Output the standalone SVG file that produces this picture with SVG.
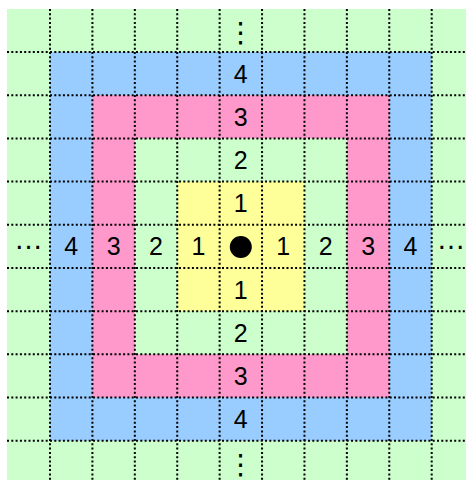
<svg xmlns="http://www.w3.org/2000/svg" width="466" height="480" viewBox="0 0 466 480">
<style>
.g{fill:#CCFFCC}.b{fill:#99CCFF}.p{fill:#FF99CC}.y{fill:#FFFF99}
.grid line{stroke:#000;stroke-width:2;stroke-dasharray:2 2.3}
.t{font-family:"Liberation Sans",Arial,sans-serif;font-size:25px;fill:#000;text-anchor:middle}
.e{font-family:"Liberation Sans","DejaVu Sans",sans-serif;font-size:29px;fill:#000;text-anchor:middle}
.v{font-family:"DejaVu Sans",sans-serif;font-size:28px;fill:#000;text-anchor:middle}
</style>
<g id="rings">
<rect id="ring5" class="g" x="7" y="9" width="459" height="471"/>
<rect id="ring4" class="b" x="50" y="52" width="381.69" height="388.71"/>
<rect id="ring3" class="p" x="92.41" y="95.19" width="296.87" height="302.33"/>
<rect id="ring2" class="g" x="134.82" y="138.38" width="212.05" height="215.95"/>
<rect id="ring1" class="y" x="177.23" y="181.57" width="127.23" height="129.57"/>
</g>
<g id="grid" class="grid">
<line x1="50" y1="9" x2="50" y2="480"/>
<line x1="92.41" y1="9" x2="92.41" y2="480"/>
<line x1="134.82" y1="9" x2="134.82" y2="480"/>
<line x1="177.23" y1="9" x2="177.23" y2="480"/>
<line x1="219.64" y1="9" x2="219.64" y2="480"/>
<line x1="262.05" y1="9" x2="262.05" y2="480"/>
<line x1="304.46" y1="9" x2="304.46" y2="480"/>
<line x1="346.87" y1="9" x2="346.87" y2="480"/>
<line x1="389.28" y1="9" x2="389.28" y2="480"/>
<line x1="431.69" y1="9" x2="431.69" y2="480"/>
<line x1="7" y1="52" x2="466" y2="52"/>
<line x1="7" y1="95.19" x2="466" y2="95.19"/>
<line x1="7" y1="138.38" x2="466" y2="138.38"/>
<line x1="7" y1="181.57" x2="466" y2="181.57"/>
<line x1="7" y1="224.76" x2="466" y2="224.76"/>
<line x1="7" y1="267.95" x2="466" y2="267.95"/>
<line x1="7" y1="311.14" x2="466" y2="311.14"/>
<line x1="7" y1="354.33" x2="466" y2="354.33"/>
<line x1="7" y1="397.52" x2="466" y2="397.52"/>
<line x1="7" y1="440.71" x2="466" y2="440.71"/>
</g>
<g id="center"><circle cx="240.8" cy="247" r="11" fill="#000"/></g>
<g id="column-labels">
<text class="v" x="240.8" y="42">⋮</text>
<text class="t" x="240.8" y="82.6">4</text>
<text class="t" x="240.8" y="125.8">3</text>
<text class="t" x="240.8" y="169">2</text>
<text class="t" x="240.8" y="212.2">1</text>
<text class="t" x="240.8" y="298.5">1</text>
<text class="t" x="240.8" y="341.7">2</text>
<text class="t" x="240.8" y="384.9">3</text>
<text class="t" x="240.8" y="428.1">4</text>
<text class="v" x="240.8" y="474">⋮</text>
</g>
<g id="row-labels">
<text class="e" x="28.5" y="248.5">…</text>
<text class="t" x="71.2" y="255.4">4</text>
<text class="t" x="113.6" y="255.4">3</text>
<text class="t" x="156" y="255.4">2</text>
<text class="t" x="198.4" y="255.4">1</text>
<text class="t" x="283.3" y="255.4">1</text>
<text class="t" x="325.7" y="255.4">2</text>
<text class="t" x="368.1" y="255.4">3</text>
<text class="t" x="410.5" y="255.4">4</text>
<text class="e" x="451" y="248.5">…</text>
</g>
</svg>
